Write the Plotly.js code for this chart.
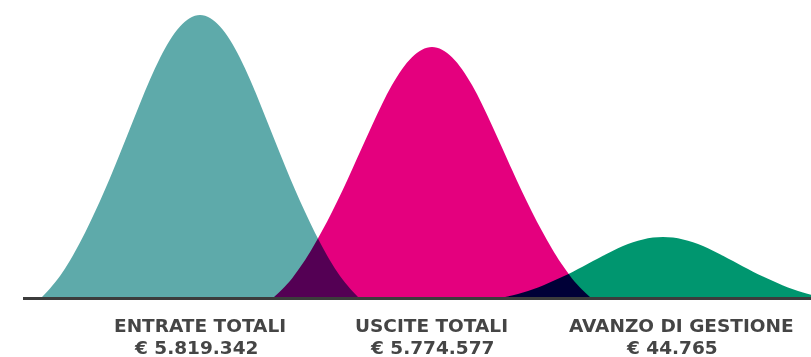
<!DOCTYPE html>
<html>
<head>
<meta charset="utf-8">
<script src="https://cdn.plot.ly/plotly-3.0.1.min.js"></script>
<style>
  html, body { margin: 0; padding: 0; background: #fff; }
  #chart { width: 811px; height: 357px; }
  .scatterlayer .js-fill { mix-blend-mode: multiply; }
</style>
</head>
<body>
<div id="chart"></div>
<script>
// Categories and values (as labelled in the chart)
const categories = ["ENTRATE TOTALI", "USCITE TOTALI", "AVANZO DI GESTIONE"];
const valueLabels = ["€ 5.819.342", "€ 5.774.577", "€ 44.765"];

// Bell-curve outlines (x position, height above the baseline)
const entrateX = [42, 50, 60, 70, 80, 90, 100, 110, 120, 130, 140, 150, 160, 170, 180, 190, 200,
                  210, 220, 230, 240, 250, 260, 270, 280, 290, 300, 310, 320, 330, 340, 350, 358];
const entrateY = [0, 8.5, 21, 36.5, 54.5, 74.5, 96, 119, 143.5, 168.5, 193.5, 217.5, 239, 257, 270.5, 279, 282,
                  279, 270.5, 257, 239, 217.5, 193.5, 168.5, 143.5, 119, 96, 74.5, 54.5, 36.5, 21, 8.5, 0];

const usciteX = [274, 282, 292, 302, 312, 322, 332, 342, 352, 362, 372, 382, 392, 402, 412, 422, 432,
                 442, 452, 462, 472, 482, 492, 502, 512, 522, 532, 542, 552, 562, 572, 582, 590];
const usciteY = [0, 7.5, 18.6, 32.4, 48.3, 66, 85.1, 105.5, 127.2, 149.4, 171.5, 192.8, 211.9, 227.8, 239.8, 247.3, 250,
                 247.3, 239.8, 227.8, 211.9, 192.8, 171.5, 149.4, 127.2, 105.5, 85.1, 66, 48.3, 32.4, 18.6, 7.5, 0];

const avanzoX = [505, 513, 523, 533, 543, 553, 563, 573, 583, 593, 603, 613, 623, 633, 643, 653, 663,
                 673, 683, 693, 703, 713, 723, 733, 743, 753, 763, 773, 783, 793, 803, 811];
const avanzoY = [0, 1.8, 4.5, 7.8, 11.6, 15.9, 20.4, 25.3, 30.5, 35.9, 41.2, 46.3, 50.9, 54.7, 57.6, 59.4, 60,
                 59.4, 57.6, 54.7, 50.9, 46.3, 41.2, 35.9, 30.5, 25.3, 20.4, 15.9, 11.6, 7.8, 4.5, 2.3];

const colors = ["#5eaaaa", "#e4007e", "#00966f"];
const xs = [entrateX, usciteX, avanzoX];
const ys = [entrateY, usciteY, avanzoY];

const traces = xs.map((x, i) => ({
  x: x, y: ys[i], type: "scatter", mode: "lines",
  line: { shape: "spline", smoothing: 1, width: 0, color: colors[i] },
  fill: "tozeroy", fillcolor: colors[i],
  hoverinfo: "skip", name: categories[i]
}));

const nameShift = [0, -1, 18];
const valueShift = [-4, 0, 9];
const labelFont = { family: "DejaVu Sans, sans-serif", size: 18.5, color: "#454545" };
const annotations = [];
categories.forEach((c, i) => {
  const peakIdx = ys[i].indexOf(Math.max(...ys[i]));
  const cx = xs[i][peakIdx];
  annotations.push({
    x: cx, y: 0, xref: "x", yref: "paper", xanchor: "center", yanchor: "middle",
    yshift: -28, xshift: nameShift[i], showarrow: false, text: "<b>" + c + "</b>",
    font: labelFont
  });
  annotations.push({
    x: cx, y: 0, xref: "x", yref: "paper", xanchor: "center", yanchor: "middle",
    yshift: -50, xshift: valueShift[i], showarrow: false, text: "<b>" + valueLabels[i] + "</b>",
    font: labelFont
  });
});

const layout = {
  width: 811, height: 357,
  margin: { l: 23, r: 0, t: 0, b: 60 },
  paper_bgcolor: "#ffffff", plot_bgcolor: "#ffffff",
  showlegend: false,
  xaxis: { range: [23, 811], showgrid: false, zeroline: false, showticklabels: false,
           ticks: "", showline: true, linecolor: "#3c3c3c", linewidth: 3, fixedrange: true },
  yaxis: { range: [0, 297], showgrid: false, zeroline: false, showticklabels: false,
           ticks: "", showline: false, fixedrange: true },
  annotations: annotations
};

Plotly.newPlot("chart", traces, layout, { staticPlot: true, displayModeBar: false });
</script>
</body>
</html>
